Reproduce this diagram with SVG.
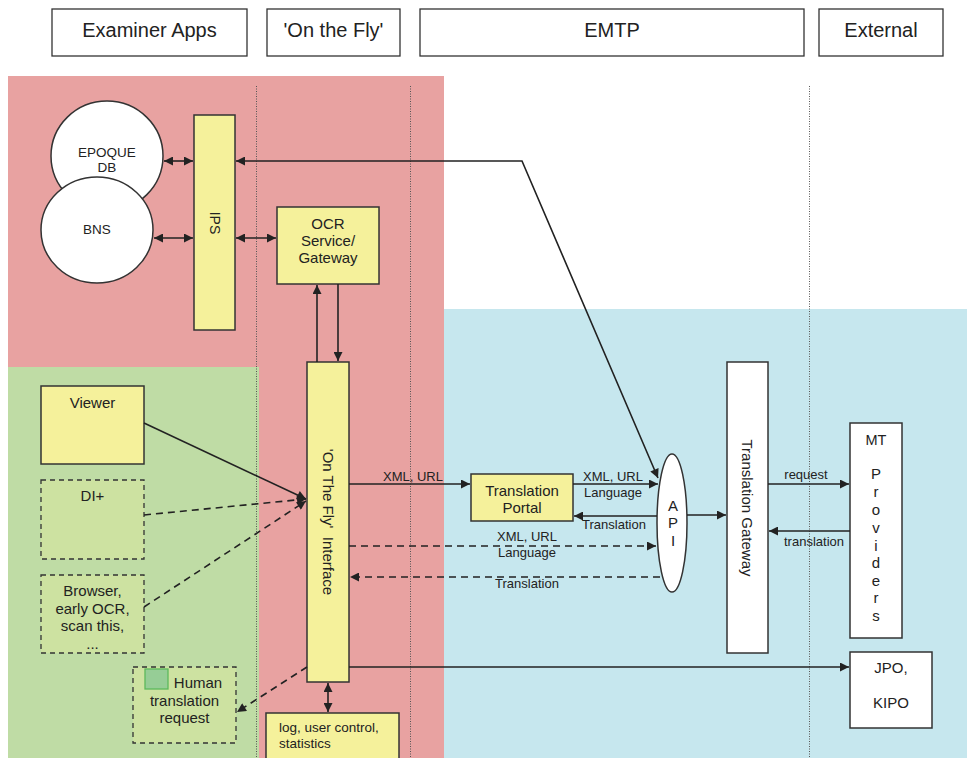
<svg xmlns="http://www.w3.org/2000/svg" width="967" height="758" viewBox="0 0 967 758">
  <style>
    text { font-family: "Liberation Sans", Arial, sans-serif; fill: #222; }
    .hdr { fill: #fff; stroke: #333; stroke-width: 1.3; }
    .hdr-t { font-size: 20px; text-anchor: middle; }
    .node { fill: #f5f19b; stroke: #333; stroke-width: 1.5; }
    .white { fill: #fff; stroke: #333; stroke-width: 1.5; }
    .dash-box { fill: #cde2a1; stroke: #333; stroke-width: 1.3; stroke-dasharray: 5 4; }
    .t15 { font-size: 15px; text-anchor: middle; }
    .t13 { font-size: 13.5px; text-anchor: middle; }
    .lbl { font-size: 13px; text-anchor: middle; }
    .sep { stroke: #555; stroke-width: 1; stroke-dasharray: 1 1.5; fill: none; }
    .link { stroke: #222; stroke-width: 1.6; fill: none; }
    .dashed { stroke-dasharray: 7 5; }
  </style>
  <defs>
    <marker id="arrow" viewBox="0 0 10 10" refX="10" refY="5" markerWidth="11" markerHeight="9" markerUnits="userSpaceOnUse" orient="auto-start-reverse">
      <path d="M0,0 L10,5 L0,10 Z" fill="#222"/>
    </marker>
  </defs>

  <!-- lane headers -->
  <g id="header-examiner">
    <rect class="hdr" x="52" y="9" width="195" height="47"/>
    <text class="hdr-t" x="149.5" y="37">Examiner Apps</text>
  </g>
  <g id="header-onthefly">
    <rect class="hdr" x="267" y="9" width="133" height="47"/>
    <text class="hdr-t" x="333.5" y="37">'On the Fly'</text>
  </g>
  <g id="header-emtp">
    <rect class="hdr" x="420" y="9" width="384" height="47"/>
    <text class="hdr-t" x="612" y="37">EMTP</text>
  </g>
  <g id="header-external">
    <rect class="hdr" x="819" y="9" width="124" height="47"/>
    <text class="hdr-t" x="881" y="37">External</text>
  </g>

  <!-- coloured zones -->
  <g id="zones">
    <rect x="8" y="76" width="436" height="682" fill="#e8a2a1"/>
    <rect x="8" y="367" width="251" height="391" fill="#bfdca5"/>
    <rect x="444" y="309" width="523" height="449" fill="#c6e7ee"/>
  </g>

  <!-- lane separators -->
  <g id="separators">
    <line class="sep" x1="256.5" y1="86" x2="256.5" y2="758"/>
    <line class="sep" x1="410.5" y1="86" x2="410.5" y2="758"/>
    <line class="sep" x1="809.5" y1="86" x2="809.5" y2="758"/>
  </g>

  <!-- nodes -->
  <g id="epoque-db">
    <ellipse cx="107" cy="156" rx="56" ry="55" fill="#fff" stroke="#333" stroke-width="1.5"/>
    <text class="t13" x="107" y="157">EPOQUE</text>
    <text class="t13" x="107" y="172">DB</text>
  </g>
  <g id="bns">
    <ellipse cx="97" cy="230" rx="56" ry="53" fill="#fff" stroke="#333" stroke-width="1.5"/>
    <text class="t13" x="97" y="234">BNS</text>
  </g>
  <g id="ips">
    <rect class="node" x="194" y="115" width="41" height="215"/>
    <text class="t15" x="214.5" y="223" transform="rotate(90 214.5 223)" dominant-baseline="central" style="font-size:14px">IPS</text>
  </g>
  <g id="ocr-gateway">
    <rect class="node" x="277" y="207" width="102" height="77"/>
    <text class="t15" x="328" y="229">OCR</text>
    <text class="t15" x="328" y="246">Service/</text>
    <text class="t15" x="328" y="263">Gateway</text>
  </g>
  <g id="otf-interface">
    <rect class="node" x="307" y="362" width="42" height="320"/>
    <text class="t15" x="328" y="522" transform="rotate(90 328 522)" dominant-baseline="central" xml:space="preserve">'On The Fly'  Interface</text>
  </g>
  <g id="viewer">
    <rect class="node" x="41" y="386" width="103" height="78"/>
    <text class="t15" x="92.5" y="408">Viewer</text>
  </g>
  <g id="di-plus">
    <rect class="dash-box" x="41" y="480" width="103" height="79"/>
    <text class="t15" x="92.5" y="501">DI+</text>
  </g>
  <g id="browser">
    <rect class="dash-box" x="41" y="575" width="103" height="78"/>
    <text class="t15" x="92.5" y="596">Browser,</text>
    <text class="t15" x="92.5" y="614">early OCR,</text>
    <text class="t15" x="92.5" y="631">scan this,</text>
    <text class="t15" x="92.5" y="649">...</text>
  </g>
  <g id="human-request">
    <rect class="dash-box" x="133" y="667" width="103" height="76"/>
    <rect x="145" y="669" width="23" height="20" fill="#96cd96" stroke="#5cb85c" stroke-width="1.3"/>
    <text class="t15" x="198" y="688">Human</text>
    <text class="t15" x="184.5" y="706">translation</text>
    <text class="t15" x="184.5" y="723">request</text>
  </g>
  <g id="log-box">
    <rect class="node" x="266" y="713" width="133" height="50"/>
    <text x="279" y="732" style="font-size:13.5px">log, user control,</text>
    <text x="279" y="748" style="font-size:13.5px">statistics</text>
  </g>
  <g id="translation-portal">
    <rect class="node" x="471" y="474" width="102" height="47"/>
    <text class="t15" x="522" y="496">Translation</text>
    <text class="t15" x="522" y="513">Portal</text>
  </g>
  <g id="api">
    <ellipse cx="672" cy="523" rx="15" ry="69" fill="#fff" stroke="#333" stroke-width="1.5"/>
    <text class="t15" x="673" y="511">A</text>
    <text class="t15" x="673" y="528">P</text>
    <text class="t15" x="673" y="546">I</text>
  </g>
  <g id="translation-gateway">
    <rect class="white" x="727" y="362" width="41" height="291"/>
    <text class="t15" x="747.5" y="508" transform="rotate(90 747.5 508)" dominant-baseline="central">Translation Gateway</text>
  </g>
  <g id="mt-providers">
    <rect class="white" x="850" y="423" width="52" height="215"/>
    <text class="t15" x="876" y="445" style="font-size:14.5px">MT</text>
    <text class="t15" x="876" y="479">P</text>
    <text class="t15" x="876" y="497">r</text>
    <text class="t15" x="876" y="515">o</text>
    <text class="t15" x="876" y="533">v</text>
    <text class="t15" x="876" y="551">i</text>
    <text class="t15" x="876" y="568">d</text>
    <text class="t15" x="876" y="586">e</text>
    <text class="t15" x="876" y="603">r</text>
    <text class="t15" x="876" y="621">s</text>
  </g>
  <g id="jpo-kipo">
    <rect class="white" x="850" y="652" width="82" height="76"/>
    <text class="t15" x="891" y="673">JPO,</text>
    <text class="t15" x="891" y="708">KIPO</text>
  </g>

  <!-- connectors -->
  <g id="connectors">
    <line class="link" x1="164" y1="161" x2="193" y2="161" marker-start="url(#arrow)" marker-end="url(#arrow)"/>
    <line class="link" x1="154" y1="238" x2="193" y2="238" marker-start="url(#arrow)" marker-end="url(#arrow)"/>
    <line class="link" x1="236" y1="238" x2="276" y2="238" marker-start="url(#arrow)" marker-end="url(#arrow)"/>
    <polyline class="link" points="236,161 522,161 658,478" marker-start="url(#arrow)" marker-end="url(#arrow)"/>
    <line class="link" x1="317" y1="362" x2="317" y2="285" marker-end="url(#arrow)"/>
    <line class="link" x1="338" y1="284" x2="338" y2="361" marker-end="url(#arrow)"/>

    <line class="link" x1="144" y1="423" x2="306" y2="499" marker-end="url(#arrow)"/>
    <line class="link dashed" x1="144" y1="515" x2="306" y2="499" marker-end="url(#arrow)"/>
    <line class="link dashed" x1="144" y1="607" x2="306" y2="501" marker-end="url(#arrow)"/>
    <line class="link dashed" x1="307" y1="667" x2="237" y2="712" marker-end="url(#arrow)"/>
    <line class="link" x1="328" y1="683" x2="328" y2="712" marker-start="url(#arrow)" marker-end="url(#arrow)"/>

    <line class="link" x1="349" y1="484" x2="470" y2="484" marker-end="url(#arrow)"/>
    <text class="lbl" x="413" y="481">XML, URL</text>

    <line class="link" x1="573" y1="484" x2="658" y2="484" marker-end="url(#arrow)"/>
    <text class="lbl" x="613" y="481">XML, URL</text>
    <text class="lbl" x="613" y="497">Language</text>

    <line class="link" x1="657" y1="516" x2="574" y2="516" marker-end="url(#arrow)"/>
    <text class="lbl" x="614" y="529">Translation</text>

    <line class="link dashed" x1="349" y1="546" x2="656" y2="546" marker-end="url(#arrow)"/>
    <text class="lbl" x="527" y="541">XML, URL</text>
    <text class="lbl" x="527" y="557">Language</text>

    <line class="link dashed" x1="660" y1="577" x2="350" y2="577" marker-end="url(#arrow)"/>
    <text class="lbl" x="527" y="588">Translation</text>

    <line class="link" x1="687" y1="515" x2="726" y2="515" marker-end="url(#arrow)"/>

    <line class="link" x1="768" y1="484" x2="849" y2="484" marker-end="url(#arrow)"/>
    <text class="lbl" x="806" y="479">request</text>
    <line class="link" x1="850" y1="531" x2="769" y2="531" marker-end="url(#arrow)"/>
    <text class="lbl" x="814" y="546">translation</text>

    <line class="link" x1="349" y1="667" x2="849" y2="667" marker-end="url(#arrow)"/>
  </g>
</svg>
